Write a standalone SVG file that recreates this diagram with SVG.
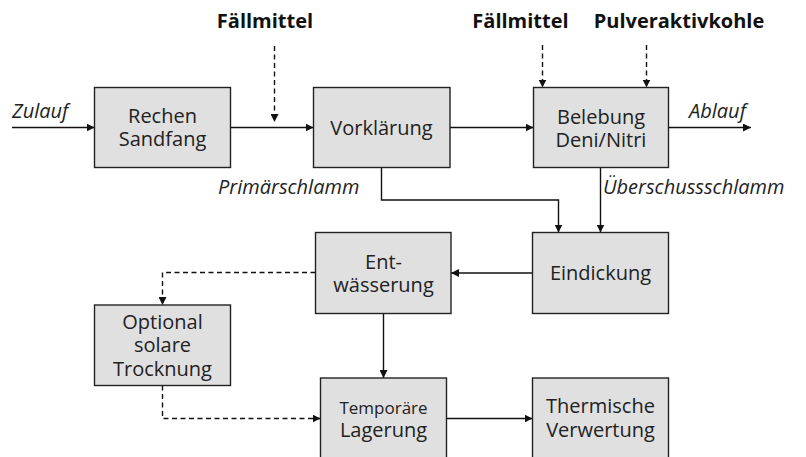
<svg xmlns="http://www.w3.org/2000/svg" width="806" height="457" viewBox="0 0 806 457">
<defs>
<marker id="ah" viewBox="0 0 10 10" refX="10" refY="5" markerWidth="8" markerHeight="8" markerUnits="userSpaceOnUse" orient="auto">
<path d="M0,0 L10,5 L0,10 z" fill="#111"/>
</marker>
<style>
.box{fill:#e0e0e0;stroke:#222;stroke-width:1.4}
.t{font-family:"Open Sans","DejaVu Sans",sans-serif;font-size:20px;fill:#222;text-anchor:middle}
.s{font-size:17px}
.b{font-family:"Open Sans","DejaVu Sans",sans-serif;font-size:20px;font-weight:bold;fill:#111;text-anchor:middle}
.i{font-family:"Open Sans","DejaVu Sans",sans-serif;font-size:20px;font-style:italic;fill:#222}
.c{fill:none;stroke:#111;stroke-width:1.4;marker-end:url(#ah)}
.d{stroke-dasharray:5,3.5}
</style>
</defs>
<rect width="806" height="457" fill="#fff"/>
<g id="connectors">
<path class="c" d="M12,127.5 H94.5"/>
<path class="c" d="M230,127.5 H313.5"/>
<path class="c d" d="M274.5,46 V122"/>
<path class="c" d="M450,127.5 H533.5"/>
<path class="c d" d="M542.5,45 V87.5"/>
<path class="c d" d="M646.5,45 V87.5"/>
<path class="c" d="M668.5,127.5 H751"/>
<path class="c" d="M600.5,167.5 V232.5"/>
<path class="c" d="M381.5,167.5 V200 H558.5 V232.5"/>
<path class="c" d="M532.5,273 H451"/>
<path class="c d" d="M315.5,272.5 H162.5 V305"/>
<path class="c" d="M383.5,313.5 V378"/>
<path class="c d" d="M162.5,385.5 V418.5 H320.5"/>
<path class="c" d="M446.5,418.5 H532.5"/>
</g>
<g id="labels">
<text class="b" x="265" y="28">Fällmittel</text>
<text class="b" x="520.5" y="28">Fällmittel</text>
<text class="b" x="679" y="28">Pulveraktivkohle</text>
<text class="i" x="12" y="118">Zulauf</text>
<text class="i" x="689" y="118">Ablauf</text>
<text class="i" x="218" y="194">Primärschlamm</text>
<text class="i" x="603" y="194">Überschussschlamm</text>
</g>
<g id="rechen"><rect class="box" x="94.5" y="87.5" width="136" height="80"/><text class="t" x="162.5" y="122.5">Rechen</text><text class="t" x="162.5" y="145.5">Sandfang</text></g>
<g id="vorklaerung"><rect class="box" x="313.5" y="87.5" width="136.5" height="80"/><text class="t" x="381.5" y="134.5">Vorklärung</text></g>
<g id="belebung"><rect class="box" x="533.5" y="87.5" width="135" height="80"/><text class="t" x="601" y="123.5">Belebung</text><text class="t" x="601" y="146.5">Deni/Nitri</text></g>
<g id="eindickung"><rect class="box" x="532.5" y="232.5" width="136" height="81"/><text class="t" x="600.5" y="280">Eindickung</text></g>
<g id="entwaesserung"><rect class="box" x="315.5" y="232.5" width="135.5" height="81"/><text class="t" x="383.5" y="268.5">Ent-</text><text class="t" x="383.5" y="291.5">wässerung</text></g>
<g id="trocknung"><rect class="box" x="94.5" y="305" width="136" height="80.5"/><text class="t" x="162.5" y="328.5">Optional</text><text class="t" x="162.5" y="352">solare</text><text class="t" x="162.5" y="375.5">Trocknung</text></g>
<g id="lagerung"><rect class="box" x="320.5" y="378" width="126" height="82"/><text class="t s" x="383.5" y="413.5">Temporäre</text><text class="t" x="383.5" y="437">Lagerung</text></g>
<g id="verwertung"><rect class="box" x="532.5" y="378" width="136" height="82"/><text class="t" x="600.5" y="413">Thermische</text><text class="t" x="600.5" y="437">Verwertung</text></g>
</svg>
